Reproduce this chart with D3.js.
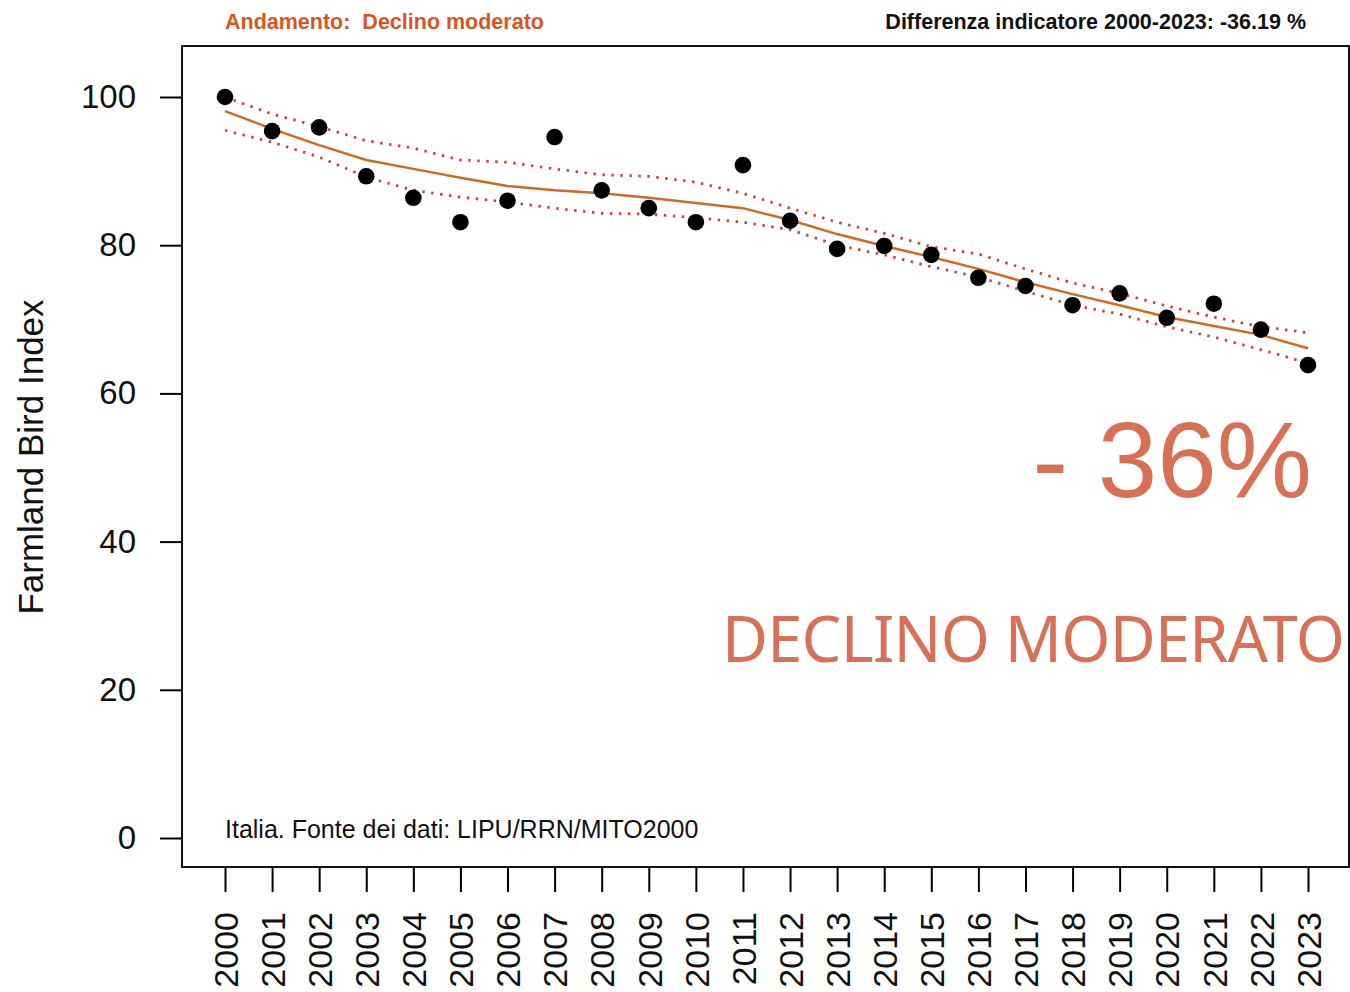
<!DOCTYPE html>
<html>
  <head>
    <meta charset="utf-8">
    <title>Farmland Bird Index - Italia</title>
    <style>
      body { margin: 0; background: #fff; }
      text { font-family: "Liberation Sans", Arial, sans-serif; }
      .axis path.domain { display: none; }
      .axis line { stroke: #000; stroke-width: 2; }
      .axis text { font-size: 33px; fill: #111; }
      .xAxis text { font-size: 34px; }
    </style>
  </head>
  <body>
    <svg id="svg1" width="1350" height="992"></svg>

    <script src="https://cdnjs.cloudflare.com/ajax/libs/d3/7.8.5/d3.min.js"></script>
    <script>
      // values
      var years = [2000, 2001, 2002, 2003, 2004, 2005, 2006, 2007, 2008, 2009, 2010, 2011,
                   2012, 2013, 2014, 2015, 2016, 2017, 2018, 2019, 2020, 2021, 2022, 2023];
      var index = [100, 95.4, 95.9, 89.3, 86.4, 83.1, 86.0, 94.6, 87.4, 85.0, 83.1, 90.8,
                   83.3, 79.5, 79.9, 78.7, 75.6, 74.5, 71.9, 73.5, 70.2, 72.1, 68.6, 63.81];
      var trend = [98.1, 95.7, 93.5, 91.5, 90.3, 89.1, 88.0, 87.4, 87.0, 86.4, 85.7, 85.0,
                   83.4, 81.5, 79.9, 78.4, 76.8, 75.0, 73.4, 71.9, 70.3, 69.1, 67.9, 66.1];
      var upper = [100.0, 97.7, 96.0, 94.1, 93.1, 91.5, 91.2, 90.3, 89.5, 89.3, 88.5, 87.0,
                   85.0, 83.1, 81.6, 79.8, 78.8, 76.8, 74.9, 73.5, 71.8, 70.3, 69.0, 68.2];
      var lower = [95.5, 93.9, 91.9, 89.2, 87.4, 86.5, 85.8, 85.0, 84.3, 84.2, 83.7, 83.1,
                   82.1, 80.0, 78.7, 77.1, 75.7, 73.8, 71.9, 70.7, 69.0, 67.6, 65.9, 64.1];
      var yTicks = [0, 20, 40, 60, 80, 100];

      var svg = d3.select("#svg1");
      var box = {left: 182, top: 46, right: 1349, bottom: 867};

      var x = d3.scaleLinear().domain([2000, 2023]).range([225, 1308]);
      var y = d3.scaleLinear().domain([0, 100]).range([838, 97]);

      // header
      svg.append("text")
        .attr("x", 225).attr("y", 29)
        .style("white-space", "pre")
        .attr("font-size", "21.5px").attr("font-weight", "bold")
        .attr("fill", "#d9541e")
        .text("Andamento:  Declino moderato");

      svg.append("text")
        .attr("x", 1306).attr("y", 29)
        .attr("text-anchor", "end")
        .attr("font-size", "21.5px").attr("font-weight", "bold")
        .attr("fill", "#111")
        .text("Differenza indicatore 2000-2023: -36.19 %");

      // axes
      svg.append("g")
        .attr("class", "axis yAxis")
        .attr("transform", "translate(" + box.left + ",0)")
        .call(d3.axisLeft(y).tickValues(yTicks).tickSize(22).tickPadding(24));

      var xa = svg.append("g")
        .attr("class", "axis xAxis")
        .attr("transform", "translate(0," + box.bottom + ")")
        .call(d3.axisBottom(x).tickValues(years).tickSize(25).tickFormat(d3.format("d")));

      xa.selectAll("text")
        .attr("transform", "rotate(-90)")
        .attr("text-anchor", "end")
        .attr("x", -45)
        .attr("y", 0)
        .attr("dy", "0.36em");

      svg.append("text")
        .attr("transform", "translate(43,457) rotate(-90)")
        .attr("text-anchor", "middle")
        .attr("font-size", "35px")
        .attr("fill", "#111")
        .text("Farmland Bird Index");

      // plot frame
      svg.append("rect")
        .attr("x", box.left).attr("y", box.top)
        .attr("width", box.right - box.left).attr("height", box.bottom - box.top)
        .attr("fill", "none").attr("stroke", "#111").attr("stroke-width", 2);

      // confidence limits and trend
      var line = function(vals) {
        return d3.line()
          .x(function(d, i) { return x(years[i]); })
          .y(function(d) { return y(d); })(vals);
      };

      [upper, lower].forEach(function(vals) {
        svg.append("path")
          .attr("d", line(vals))
          .attr("fill", "none")
          .attr("stroke", "#c9473d")
          .attr("stroke-width", 2.8)
          .attr("stroke-dasharray", "2.5,6.5");
      });

      svg.append("path")
        .attr("d", line(trend))
        .attr("fill", "none")
        .attr("stroke", "#d2691e")
        .attr("stroke-width", 2.5);

      svg.selectAll("circle.pt")
        .data(index)
        .enter()
        .append("circle")
        .attr("class", "pt")
        .attr("cx", function(d, i) { return x(years[i]); })
        .attr("cy", function(d) { return y(d); })
        .attr("r", 8.3)
        .attr("fill", "#000");

      svg.append("text")
        .attr("x", 225).attr("y", 838)
        .attr("font-size", "25px")
        .attr("fill", "#111")
        .text("Italia. Fonte dei dati: LIPU/RRN/MITO2000");

      // overlay labels
      svg.append("text")
        .attr("x", 1312).attr("y", 497)
        .attr("text-anchor", "end")
        .style("white-space", "pre")
        .attr("font-size", "107px")
        .attr("fill", "#d87055")
        .text("- 36%");

      svg.append("text")
        .attr("x", 722).attr("y", 662)
        .style("font-family", "'Noto Sans', sans-serif")
        .attr("font-size", "63px")
        .attr("textLength", 623)
        .attr("fill", "#d87055")
        .text("DECLINO MODERATO");
    </script>
  </body>
</html>
